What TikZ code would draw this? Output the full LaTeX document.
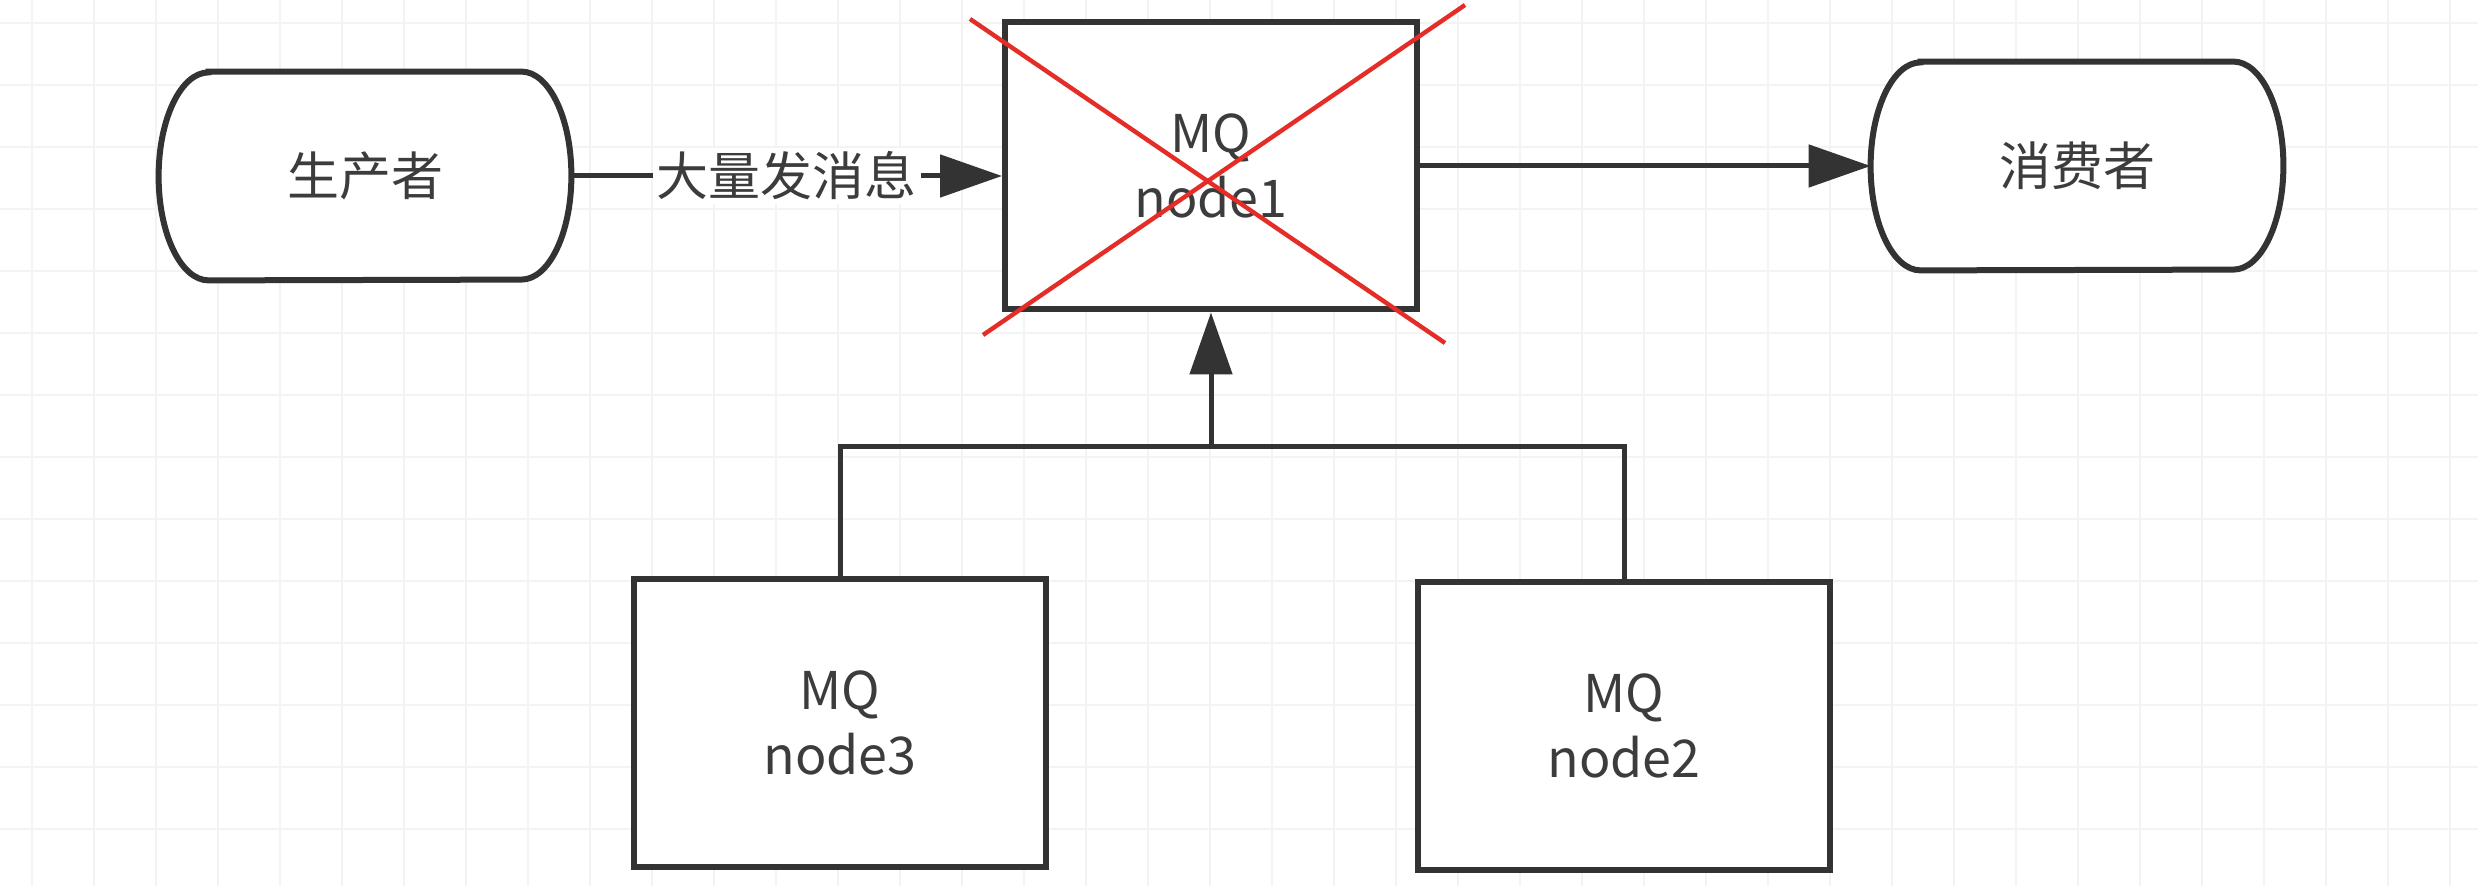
\documentclass[tikz,border=0pt]{standalone}
\usepackage{fontspec}
\setmainfont{Noto Sans CJK SC}
\usetikzlibrary{arrows.meta}
\definecolor{ink}{RGB}{51,51,51}
\definecolor{txt}{RGB}{60,60,60}
\definecolor{xred}{RGB}{228,45,38}
\definecolor{gridc}{RGB}{243,243,243}
\pgfdeclarelayer{gridlayer}
\pgfdeclarelayer{shapelayer}
\pgfsetlayers{gridlayer,shapelayer,main}
\tikzset{
  mqbox/.style={draw=ink, line width=3pt, fill=white, minimum width=206pt, minimum height=143.5pt,
    align=center, text=txt, font=\fontsize{26}{32.5}\selectfont},
  term/.style={rectangle, minimum width=206pt, minimum height=104pt, text=txt, font=\fontsize{26}{32.5}\selectfont},
  termline/.style={draw=ink, line width=3pt, fill=white},
  wire/.style={draw=ink, line width=2.5pt},
  arrowline/.style={wire, -{Triangle[length=31pt,width=21pt]}},
  lbl/.style={fill=white, inner sep=2pt, text=txt, font=\fontsize{26}{32.5}\selectfont},
  cross/.style={draw=xred, line width=2.2pt}
}
\newcommand{\termoutline}[1]{%
  \begin{pgfonlayer}{shapelayer}
  \path[termline] ([xshift=25pt]#1.north west) -- ([xshift=-25pt]#1.north east)
    arc[start angle=90, end angle=-90, x radius=25pt, y radius=52pt]
    -- ([xshift=25pt]#1.south west)
    arc[start angle=270, end angle=90, x radius=25pt, y radius=52pt] -- cycle;
  \end{pgfonlayer}}
\begin{document}
\begin{tikzpicture}[x=0.5pt,y=-0.5pt]
\useasboundingbox (0,0) rectangle (2478,886);
\begin{pgfonlayer}{gridlayer}
\fill[white] (0,0) rectangle (2478,886);
\foreach \gx in {32,94,...,2478} \draw[gridc, line width=0.6pt] (\gx,0) -- (\gx,886);
\foreach \gy in {23,85,...,886} \draw[gridc, line width=0.6pt] (0,\gy) -- (2478,\gy);
\end{pgfonlayer}

\node[term] (prod) at (365,176) {生产者};
\node[term] (cons) at (2077,166) {消费者};
\termoutline{prod}
\termoutline{cons}
\node[mqbox] (n1) at (1211,166) {MQ\\node1};
\node[mqbox] (n3) at (840,723) {MQ\\node3};
\node[mqbox] (n2) at (1624,726) {MQ\\node2};
\coordinate (j) at (1211,447);

\draw[arrowline] (prod.east) -- node[lbl] (msg) {大量发消息} (prod.east -| n1.west);
\draw[arrowline] (n1.east) -- (cons.west);
\draw[wire] (n3.north) |- (j) -| (n2.north);
\draw[arrowline] (j) -- (n1.south);

% red cross over node1
\draw[cross] (970,19) -- (1445,343);
\draw[cross] (1465,5) -- (983,335);
\end{tikzpicture}
\end{document}
